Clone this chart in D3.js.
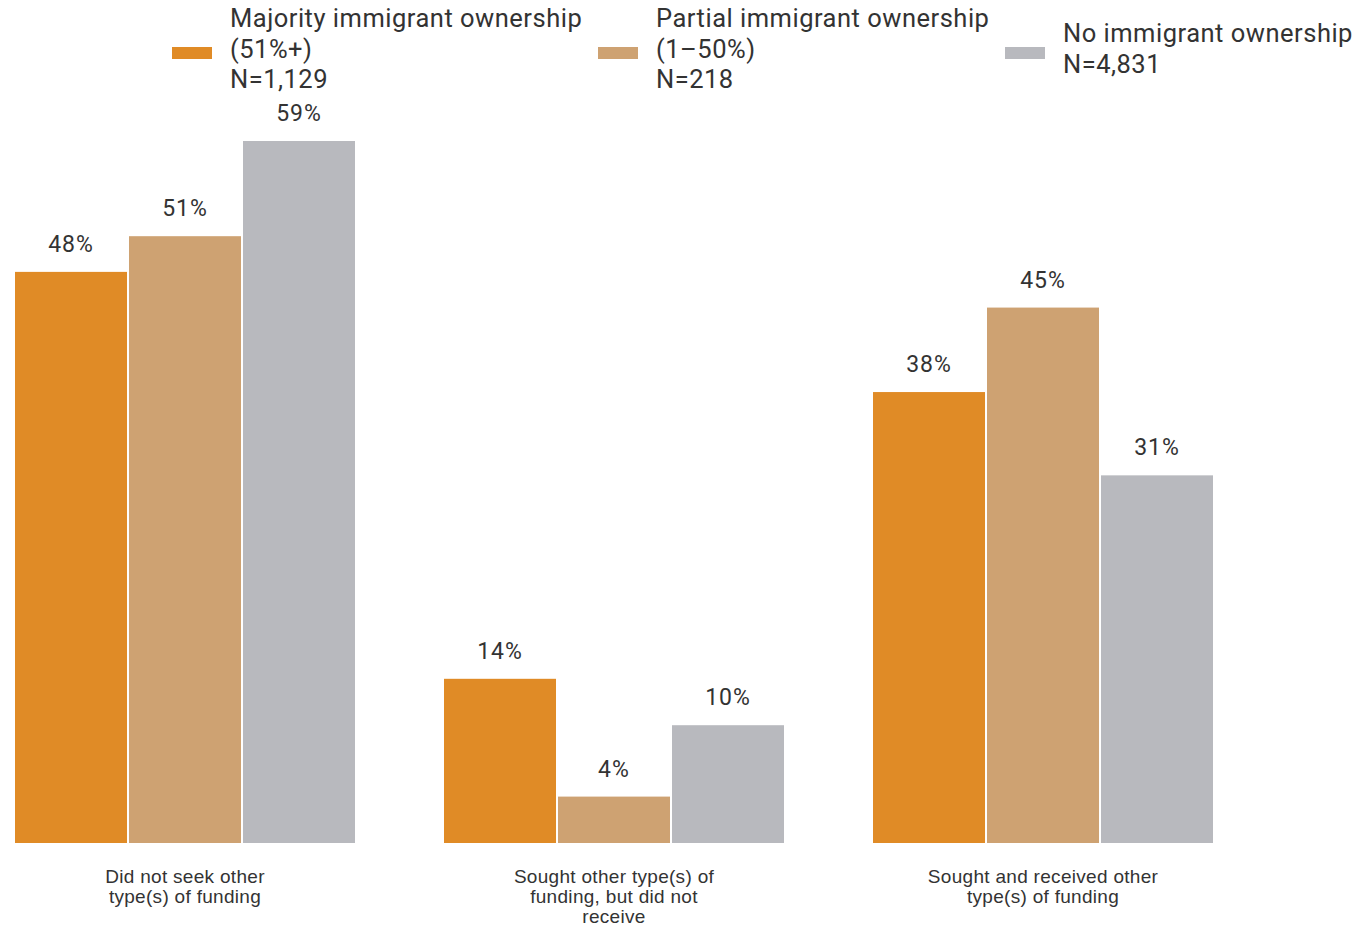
<!DOCTYPE html>
<html><head><meta charset="utf-8">
<script src="https://cdn.jsdelivr.net/npm/d3@7"></script>
<style>html,body{margin:0;padding:0;background:#fff;}</style>
</head><body>
<svg id="chart" width="1360" height="928"></svg>
<script>
const categories = [
  ["Did not seek other", "type(s) of funding"],
  ["Sought other type(s) of", "funding, but did not", "receive"],
  ["Sought and received other", "type(s) of funding"]
];
const seriesNames = ["Majority", "Partial", "None"];
const legendLabels = [
  ["Majority immigrant ownership", "(51%+)", "N=1,129"],
  ["Partial immigrant ownership", "(1\u201350%)", "N=218"],
  ["No immigrant ownership", "N=4,831"]
];
const majorityValues = [48, 13.8, 37.9];
const partialValues = [51, 3.9, 45];
const noneValues = [59, 9.9, 30.9];
const valueLabels = [["48%", "51%", "59%"], ["14%", "4%", "10%"], ["38%", "45%", "31%"]];
const colors = ["#E08B26", "#CEA272", "#B8B9BE"];

const seriesValues = [majorityValues, partialValues, noneValues];
const svg = d3.select("#chart");
const baseY = 843;

const x0 = d3.scaleBand().domain(d3.range(categories.length)).range([15, 1213]).paddingInner(0.2075).paddingOuter(0);
const x1 = d3.scaleBand().domain(d3.range(seriesNames.length)).range([0, x0.bandwidth()]).paddingInner(2/114).paddingOuter(0);
const y = d3.scaleLinear().domain([0, 59]).range([baseY, 141]);

const groups = svg.selectAll("g.grp").data(categories).join("g")
  .attr("class", "grp")
  .attr("transform", (d, i) => `translate(${x0(i)},0)`);

groups.each(function(cat, ci) {
  const g = d3.select(this);
  seriesNames.forEach((s, si) => {
    const v = seriesValues[si][ci];
    g.append("rect")
      .attr("x", x1(si)).attr("width", x1.bandwidth())
      .attr("y", y(v)).attr("height", baseY - y(v))
      .attr("fill", colors[si]);
    g.append("text")
      .attr("x", x1(si) + x1.bandwidth() / 2)
      .attr("y", y(v) - 20)
      .attr("text-anchor", "middle")
      .attr("font-family", "Roboto, sans-serif")
      .attr("font-size", 23)
      .attr("letter-spacing", "1px")
      .attr("fill", "#333")
      .text(valueLabels[ci][si]);
  });
  const t = g.append("text")
    .attr("text-anchor", "middle")
    .attr("font-family", "'Liberation Sans', Arial, sans-serif")
    .attr("font-size", 19)
    .attr("letter-spacing", "0.3px")
    .attr("fill", "#333");
  cat.forEach((line, li) => {
    t.append("tspan").attr("x", x0.bandwidth() / 2).attr("y", 883 + li * 20).text(line);
  });
});

// Legend
const legendX = [172, 598, 1005];
legendLabels.forEach((lines, i) => {
  const g = svg.append("g").attr("transform", `translate(${legendX[i]},0)`);
  g.append("rect").attr("x", 0).attr("y", 47).attr("width", 40).attr("height", 12).attr("fill", colors[i]);
  const n = lines.length;
  const lh = 30.5;
  const firstBase = 57.5 - (n - 1) * lh / 2;
  const t = g.append("text")
    .attr("font-family", "Roboto, sans-serif")
    .attr("font-size", 25.5)
    .attr("letter-spacing", "0.5px")
    .attr("fill", "#333");
  lines.forEach((line, li) => {
    t.append("tspan").attr("x", 58).attr("y", firstBase + li * lh).text(line);
  });
});
</script>
</body></html>
